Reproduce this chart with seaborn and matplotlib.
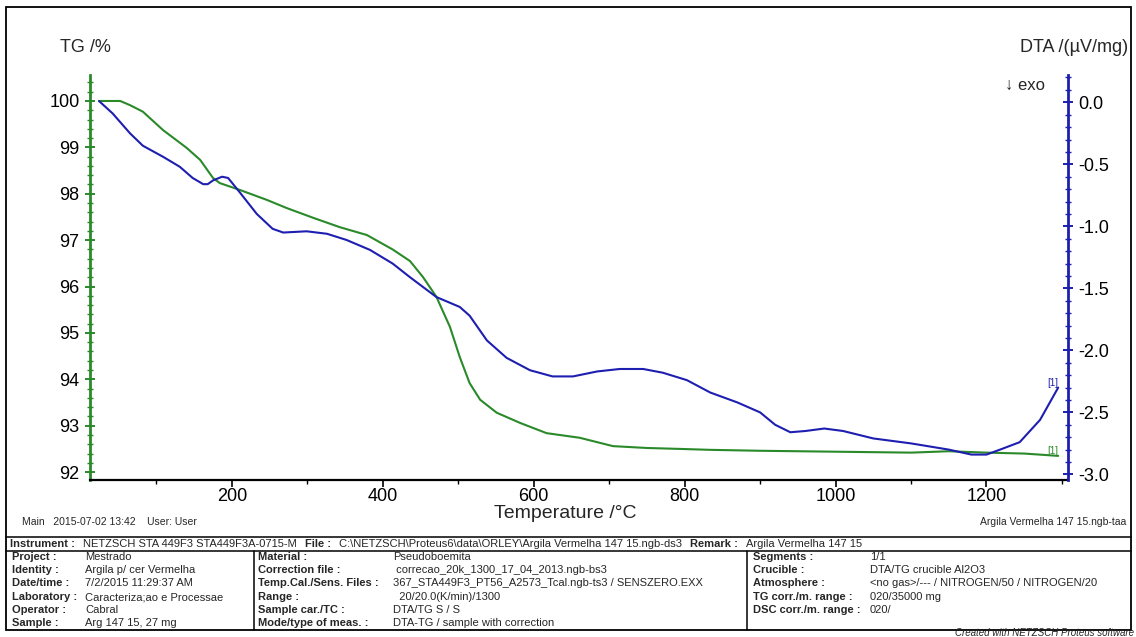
import matplotlib
matplotlib.use("Agg")
import matplotlib.pyplot as plt
import seaborn as sns
import pandas as pd
from matplotlib.ticker import MultipleLocator
from matplotlib.lines import Line2D
from matplotlib.patches import Rectangle

# ---------------- data ----------------
tg_temp = [24, 52, 65, 82, 109, 140, 158, 175, 184, 211, 246, 273, 308, 343, 379,
           413, 436, 453, 471, 489, 502, 515, 529, 551, 582, 617, 661, 705, 750,
           794, 834, 900, 1000, 1100, 1150, 1200, 1250, 1295]
tg = [100.0, 100.0, 99.91, 99.77, 99.37, 98.99, 98.73, 98.34, 98.23, 98.08, 97.87,
      97.69, 97.48, 97.28, 97.11, 96.80, 96.55, 96.21, 95.78, 95.13, 94.48, 93.92,
      93.56, 93.28, 93.06, 92.84, 92.74, 92.56, 92.52, 92.50, 92.48, 92.46, 92.44,
      92.42, 92.45, 92.42, 92.40, 92.35]

dta_temp = [24, 42, 65, 82, 109, 131, 148, 162, 168, 175, 187, 195, 211, 233, 254,
            268, 299, 326, 352, 383, 413, 436, 471, 502, 515, 538, 564, 595, 625,
            652, 684, 714, 745, 771, 803, 834, 870, 900, 920, 940, 960, 985, 1010,
            1050, 1100, 1150, 1180, 1200, 1218, 1244, 1271, 1295]
dta = [0.01, -0.09, -0.25, -0.35, -0.44, -0.52, -0.61, -0.66, -0.66, -0.63, -0.60,
       -0.61, -0.73, -0.90, -1.02, -1.05, -1.04, -1.06, -1.11, -1.19, -1.30, -1.41,
       -1.57, -1.65, -1.72, -1.92, -2.06, -2.16, -2.21, -2.21, -2.17, -2.15, -2.15,
       -2.18, -2.24, -2.34, -2.42, -2.50, -2.60, -2.66, -2.65, -2.63, -2.65, -2.71,
       -2.75, -2.80, -2.84, -2.84, -2.80, -2.74, -2.56, -2.30]

x_ticks = [200, 400, 600, 800, 1000, 1200]
tg_ticks = [92, 93, 94, 95, 96, 97, 98, 99, 100]
dta_ticks = [0.0, -0.5, -1.0, -1.5, -2.0, -2.5, -3.0]

info_row = [("Instrument :", True), ("NETZSCH STA 449F3 STA449F3A-0715-M", False),
            ("File :", True), ("C:\\NETZSCH\\Proteus6\\data\\ORLEY\\Argila Vermelha 147 15.ngb-ds3", False),
            ("Remark :", True), ("Argila Vermelha 147 15", False)]
col1_labels = ["Project :", "Identity :", "Date/time :", "Laboratory :", "Operator :", "Sample :"]
col1_values = ["Mestrado", "Argila p/ cer Vermelha", "7/2/2015 11:29:37 AM",
               "Caracteriza;ao e Processae", "Cabral", "Arg 147 15, 27 mg"]
col2_labels = ["Material :", "Correction file :", "Temp.Cal./Sens. Files :", "Range :",
               "Sample car./TC :", "Mode/type of meas. :"]
col2_values = ["Pseudoboemita", " correcao_20k_1300_17_04_2013.ngb-bs3",
               "367_STA449F3_PT56_A2573_Tcal.ngb-ts3 / SENSZERO.EXX",
               "  20/20.0(K/min)/1300", "DTA/TG S / S", "DTA-TG / sample with correction"]
col3_labels = ["Segments :", "Crucible :", "Atmosphere :", "TG corr./m. range :",
               "DSC corr./m. range :"]
col3_values = ["1/1", "DTA/TG crucible Al2O3", "<no gas>/--- / NITROGEN/50 / NITROGEN/20",
               "020/35000 mg", "020/"]

GREEN = "#2a8a2a"
BLUE = "#1e1eb0"

# ---------------- figure ----------------
sns.set_style("white")
plt.rcParams['font.family'] = ['Liberation Sans', 'DejaVu Sans']

W, H = 1136, 637
fig = plt.figure(figsize=(W / 100, H / 100), dpi=100)


def fx(px):
    return px / W


def fy(py):
    return 1 - py / H


ax = fig.add_axes([fx(90), fy(480), fx(1068) - fx(90), fy(75) - fy(480)])
ax2 = ax.twinx()

df_tg = pd.DataFrame({"T": tg_temp, "TG": tg})
df_dta = pd.DataFrame({"T": dta_temp, "DTA": dta})
sns.lineplot(data=df_tg, x="T", y="TG", ax=ax, color=GREEN, lw=1.5,
             sort=False, estimator=None)
sns.lineplot(data=df_dta, x="T", y="DTA", ax=ax2, color=BLUE, lw=1.5,
             sort=False, estimator=None)

ax.set_xlim(12, 1308)
ax.set_ylim(91.83, 100.56)
ax2.set_ylim(-3.045, 0.22)
ax.set_xlabel("")
ax.set_ylabel("")
ax2.set_ylabel("")

ax.set_xticks(x_ticks)
ax.xaxis.set_minor_locator(MultipleLocator(100))
ax.set_yticks(tg_ticks)
ax.yaxis.set_minor_locator(MultipleLocator(0.2))
ax2.set_yticks(dta_ticks)
ax2.set_yticklabels([f"{v:.1f}" for v in dta_ticks])
ax2.yaxis.set_minor_locator(MultipleLocator(0.1))

for a in (ax, ax2):
    a.spines['top'].set_visible(False)
    a.grid(False)
ax.spines['right'].set_visible(False)
ax2.spines['left'].set_visible(False)
ax2.spines['bottom'].set_visible(False)
ax.spines['left'].set_color(GREEN)
ax.spines['left'].set_linewidth(2)
ax2.spines['right'].set_color(BLUE)
ax2.spines['right'].set_linewidth(2)
ax.spines['bottom'].set_color("black")
ax.spines['bottom'].set_linewidth(1.6)

ax.tick_params(axis='x', which='major', direction='out', length=5, width=1.2,
               colors='black', labelsize=13, pad=1, bottom=True)
ax.tick_params(axis='x', which='minor', direction='out', length=3, width=1,
               colors='black', bottom=True)
ax.tick_params(axis='y', which='major', direction='inout', length=7, width=1.4,
               color=GREEN, labelcolor='black', labelsize=13, pad=4, left=True)
ax.tick_params(axis='y', which='minor', direction='inout', length=4, width=1,
               color=GREEN, left=True)
ax2.tick_params(axis='y', which='major', direction='inout', length=7, width=1.4,
                color=BLUE, labelcolor='black', labelsize=13, pad=4, right=True)
ax2.tick_params(axis='y', which='minor', direction='inout', length=4, width=1,
                color=BLUE, right=True)

# curve end markers
ax2.text(dta_temp[-1], dta[-1], "[1]", color=BLUE, fontsize=7, ha='right', va='bottom')
ax.text(tg_temp[-1], tg[-1], "[1]", color=GREEN, fontsize=7, ha='right', va='bottom')

# axis titles
fig.text(fx(60), fy(47), "TG /%", fontsize=13, ha='left', va='center')
fig.text(fx(1128), fy(48), "DTA /(µV/mg)", fontsize=13, ha='right', va='center')
fig.text(fx(1005), fy(85), "↓ exo", fontsize=12, ha='left', va='center')
fig.text(fx(565), fy(513), "Temperature /°C", fontsize=14, ha='center', va='center')

fig.text(fx(22), fy(522), "Main   2015-07-02 13:42    User: User", fontsize=7.5,
         ha='left', va='center')
fig.text(fx(1126), fy(522), "Argila Vermelha 147 15.ngb-taa", fontsize=7.5,
         ha='right', va='center')

# ---------------- frame + table ----------------
fig.add_artist(Rectangle((fx(6), fy(630)), fx(1131) - fx(6), fy(7) - fy(630),
                         transform=fig.transFigure, fill=False, lw=1.3, ec='black'))
for yy in (537, 551):
    fig.add_artist(Line2D([fx(6), fx(1131)], [fy(yy), fy(yy)], transform=fig.transFigure,
                          color='black', lw=1.1))
for xx in (254, 747):
    fig.add_artist(Line2D([fx(xx), fx(xx)], [fy(551), fy(630)], transform=fig.transFigure,
                          color='black', lw=1.1))

TS = 8
renderer = fig.canvas.get_renderer()
xcur = 10
for txt, bold in info_row:
    t = fig.text(fx(xcur), fy(544), txt, fontsize=TS, fontweight='bold' if bold else 'normal',
                 ha='left', va='center')
    bb = t.get_window_extent(renderer=renderer)
    xcur = xcur + bb.width + 8

row_y = [557, 570, 583, 597, 610, 623]
for i, y in enumerate(row_y):
    fig.text(fx(12), fy(y), col1_labels[i], fontsize=TS, fontweight='bold', ha='left', va='center')
    fig.text(fx(85), fy(y), col1_values[i], fontsize=TS, ha='left', va='center')
    fig.text(fx(258), fy(y), col2_labels[i], fontsize=TS, fontweight='bold', ha='left', va='center')
    fig.text(fx(393), fy(y), col2_values[i], fontsize=TS, ha='left', va='center')
for i, y in enumerate(row_y[:5]):
    fig.text(fx(753), fy(y), col3_labels[i], fontsize=TS, fontweight='bold', ha='left', va='center')
    fig.text(fx(870), fy(y), col3_values[i], fontsize=TS, ha='left', va='center')

fig.text(fx(1134), fy(633.5), "Created with NETZSCH Proteus software", fontsize=7,
         style='italic', ha='right', va='center')

fig.savefig("out.png", dpi=100)
